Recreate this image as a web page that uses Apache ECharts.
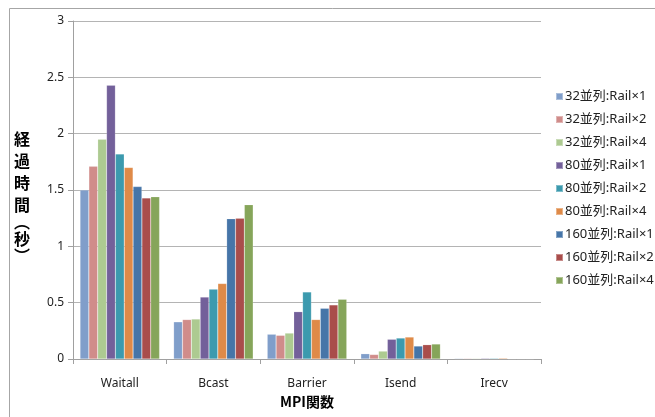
<!DOCTYPE html>
<html>
<head>
<meta charset="utf-8">
<script src="https://cdn.jsdelivr.net/npm/echarts@6/dist/echarts.min.js"></script>
<style>
html,body{margin:0;padding:0;background:#fff;}
#chart{width:655px;height:417px;}
</style>
</head>
<body>
<div id="chart"></div>
<script>
// MPI function categories and elapsed time (seconds) per configuration
const categories = ['Waitall', 'Bcast', 'Barrier', 'Isend', 'Irecv'];
const seriesNames = [
  '32並列:Rail×1', '32並列:Rail×2', '32並列:Rail×4',
  '80並列:Rail×1', '80並列:Rail×2', '80並列:Rail×4',
  '160並列:Rail×1', '160並列:Rail×2', '160並列:Rail×4'
];
const p32r1  = [1.50, 0.33, 0.22, 0.047, 0.006];
const p32r2  = [1.71, 0.35, 0.21, 0.040, 0.006];
const p32r4  = [1.95, 0.355, 0.23, 0.070, 0.006];
const p80r1  = [2.43, 0.55, 0.42, 0.175, 0.007];
const p80r2  = [1.82, 0.62, 0.595, 0.186, 0.007];
const p80r4  = [1.70, 0.67, 0.35, 0.195, 0.008];
const p160r1 = [1.53, 1.245, 0.45, 0.115, 0.003];
const p160r2 = [1.43, 1.25, 0.48, 0.127, 0.003];
const p160r4 = [1.44, 1.37, 0.53, 0.133, 0.003];
const seriesValues = [p32r1, p32r2, p32r4, p80r1, p80r2, p80r4, p160r1, p160r2, p160r4];
const yTicks = { min: 0, max: 3, interval: 0.5 };

const colors = ['#809ECA', '#D08C8A', '#ADCA91', '#73609A', '#3C9AAE', '#DF8A48', '#4675A8', '#A94D4B', '#86A55A'];
const baseFont = "'Noto Sans', 'Noto Sans CJK JP', sans-serif";
const cjkFont = "'Noto Sans CJK JP', sans-serif";

const chart = echarts.init(document.getElementById('chart'), null, { renderer: 'canvas' });
chart.setOption({
  animation: false,
  color: colors,
  textStyle: { fontFamily: baseFont },
  graphic: [{
    type: 'rect',
    shape: { x: 9.5, y: 8.5, width: 700, height: 500 },
    style: { fill: 'none', stroke: '#a6a6a6', lineWidth: 1 },
    silent: true
  }],
  grid: { left: 73, right: 114, top: 21, bottom: 58 },
  legend: {
    orient: 'vertical',
    left: 550,
    top: 85,
    itemWidth: 7,
    itemHeight: 7,
    itemGap: 10,
    icon: 'rect',
    textStyle: { fontSize: 13, color: '#222', fontFamily: baseFont, padding: [0, 0, 0, -3] },
    data: seriesNames
  },
  xAxis: {
    type: 'category',
    data: categories,
    name: 'MPI関数',
    nameLocation: 'middle',
    nameGap: 34,
    nameTextStyle: { fontSize: 14, fontWeight: 'bold', color: '#000', fontFamily: cjkFont },
    axisLine: { lineStyle: { color: '#a0a0a0' } },
    axisTick: { show: true, alignWithLabel: false, length: 5, lineStyle: { color: '#a0a0a0' } },
    axisLabel: { fontSize: 12, color: '#222', margin: 19 }
  },
  yAxis: {
    type: 'value',
    min: yTicks.min,
    max: yTicks.max,
    interval: yTicks.interval,
    name: '{c|経}\n{c|過}\n{c|時}\n{c|間}\n{p|︵}\n{c|秒}\n{p|︶}',
    nameLocation: 'middle',
    nameGap: 43,
    nameRotate: 0,
    nameTextStyle: {
      padding: [10, 0, 0, 0],
      rich: {
        c: { fontSize: 16, fontWeight: 'bold', color: '#000', lineHeight: 22, fontFamily: cjkFont },
        p: { fontSize: 16, fontWeight: 'bold', color: '#000', lineHeight: 12, fontFamily: cjkFont }
      }
    },
    axisLine: { show: true, lineStyle: { color: '#a0a0a0' } },
    axisTick: { show: true, length: 5, lineStyle: { color: '#a0a0a0' } },
    axisLabel: { fontSize: 12, color: '#222', margin: 9 },
    splitLine: { lineStyle: { color: '#b4b4b4', width: 1 } }
  },
  series: seriesNames.map((name, i) => ({
    name: name,
    type: 'bar',
    data: seriesValues[i],
    barGap: '0%',
    barCategoryGap: '15%',
    itemStyle: { color: colors[i], borderColor: 'rgba(255,255,255,0.35)', borderWidth: 0.5 }
  }))
});
</script>
</body>
</html>
